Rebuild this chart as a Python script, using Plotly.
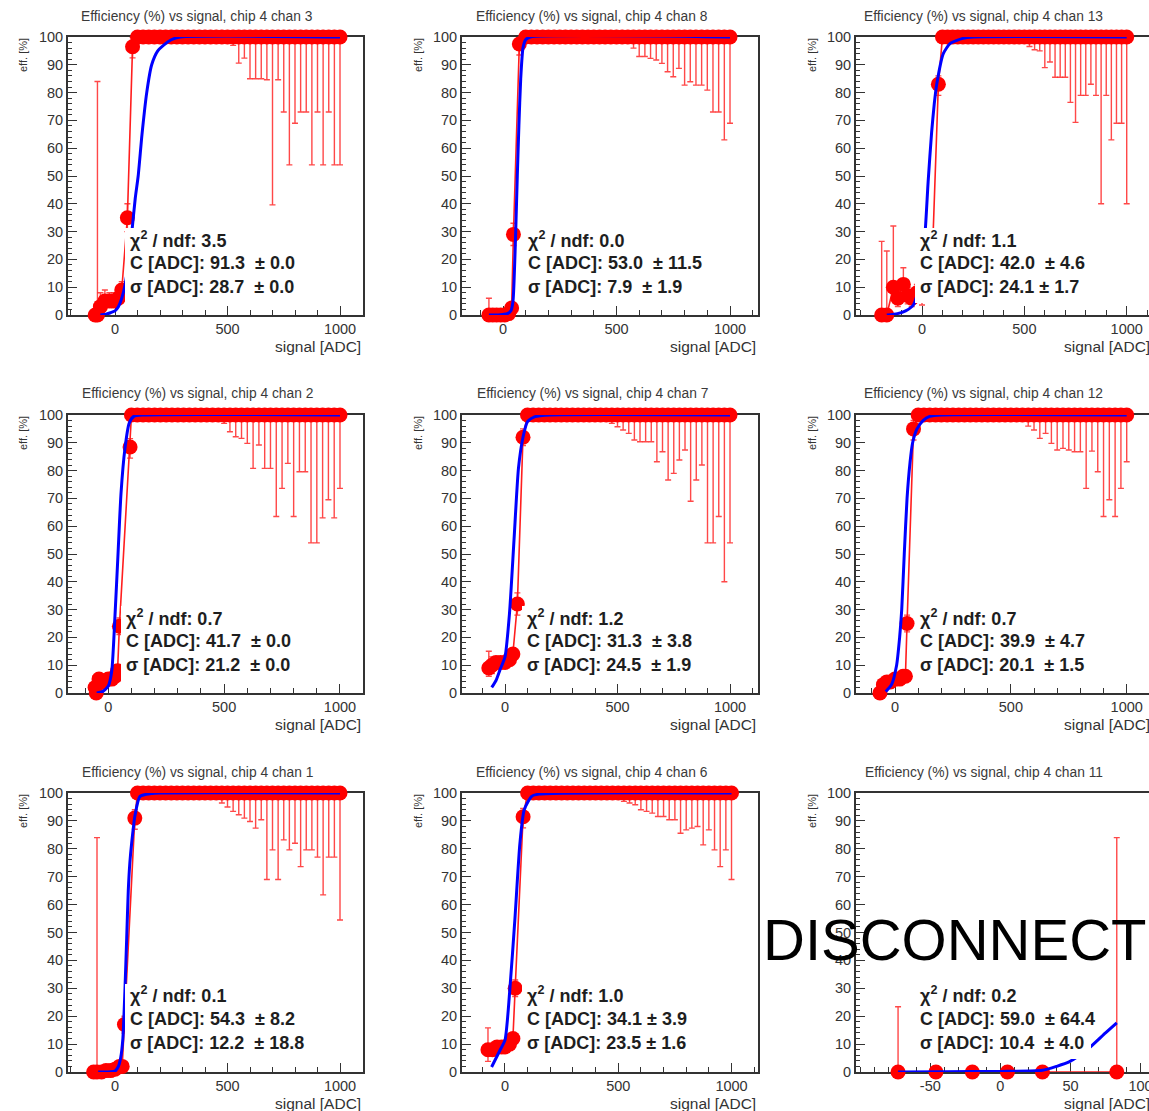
import plotly.graph_objects as go

W, H = 1149, 1111

# ---------------- shared data ----------------
PLATEAU_X = [100, 125, 150, 175, 200, 225, 250, 275, 300, 325, 350, 375, 400, 425, 450, 475, 500, 525,
             550, 575, 600, 625, 650, 675, 700, 725, 750, 775, 800, 825, 850, 875, 900, 925, 950, 975, 1000]
PLATEAU_EFF = [100, 100, 100, 100, 100, 100, 100, 100, 100, 100, 100, 100, 100, 100, 100, 100, 100, 100,
               100, 100, 100, 100, 100, 100, 100, 100, 100, 100, 100, 100, 100, 100, 100, 100, 100, 100, 100]
PLATEAU_EHI = [0, 0, 0, 0, 0, 0, 0, 0, 0, 0, 0, 0, 0, 0, 0, 0, 0, 0,
               0, 0, 0, 0, 0, 0, 0, 0, 0, 0, 0, 0, 0, 0, 0, 0, 0, 0, 0]

Y_TICKS = [0, 10, 20, 30, 40, 50, 60, 70, 80, 90, 100]
X_TICKS_WIDE = [0, 500, 1000]
X_TICKS_WIDE_TEXT = ["0", "500", "1000"]
X_TICKS_NARROW = [-50, 0, 50, 100]
X_TICKS_NARROW_TEXT = ["-50", "0", "50", "100"]

# ---------------- chan 3 ----------------
ch3_low_x = [-88, -78, -65, -45, -25, -5, 15, 30, 55, 78]
ch3_low_eff = [0, 0, 3, 5, 5, 5, 6, 9, 35, 96.5]
ch3_low_ehi = [0, 84, 5, 4, 3, 3, 3, 3, 5, 3.5]
ch3_low_elo = [0, 0, 2, 2, 2, 2, 2, 3, 5, 4]
ch3_plat_elo = [0, 0, 0, 0, 0, 0, 0, 0, 0, 0, 0, 0, 0, 0, 0, 0.5, 1.5, 3, 9.4, 7.6, 15, 15, 15, 15.4,
                60.4, 15.4, 27, 46, 31, 27, 27, 46, 27, 46, 27, 46, 46]
ch3_fit_x = [-65, -40, -20, 0, 15, 30, 45, 60, 75, 90, 103, 120, 141, 163, 190, 215, 250, 290, 1000]
ch3_fit_y = [0, 0.3, 0.8, 1.5, 3, 6, 11, 19, 30, 42, 50, 65, 80, 90, 95, 97, 99, 100, 100]
ch3_stats = ["3.5", "91.3\u00a0 \u00b1 0.0", "28.7\u00a0 \u00b1 0.0"]

# ---------------- chan 8 ----------------
ch8_low_x = [-62, -45, -28, -10, 8, 25, 38, 46, 72]
ch8_low_eff = [0, 0, 0, 0, 0, 0.5, 2.5, 29, 97.5]
ch8_low_ehi = [6, 2, 2, 2, 2, 2, 2, 4, 2.5]
ch8_low_elo = [0, 0, 0, 0, 0, 0.5, 1.5, 4, 4]
ch8_plat_elo = [0, 0, 0, 0, 0, 0, 0, 0, 0, 0, 0, 0, 0, 0, 0, 0, 0.5, 1, 2, 4, 7, 7, 7.7, 8.3,
                9.5, 12.5, 14.3, 11.3, 17.3, 16.1, 17.3, 17.3, 19.1, 27, 27, 37, 31]
ch8_fit_x = [-62, -20, 0, 20, 35, 44, 50, 56, 63, 70, 78, 88, 100, 120, 1000]
ch8_fit_y = [0, 0, 0.2, 0.5, 1.5, 5, 15, 30, 50, 68, 85, 96, 99, 100, 100]
ch8_stats = ["0.0", "53.0\u00a0 \u00b1 11.5", "7.9\u00a0 \u00b1 1.9"]

# ---------------- chan 13 ----------------
ch13_low_x = [-197, -172, -140, -118, -91, -70, -50, -25, 0, 25, 50, 80]
ch13_low_eff = [0, 0, 10, 6, 11, 7, 6, 8, 10, 12, 20, 83]
ch13_low_ehi = [26.5, 23, 22, 6, 6, 3, 3, 3, 3, 3, 4, 3]
ch13_low_elo = [0, 0, 4, 3, 4, 3, 3, 3, 6.4, 4, 4, 4]
ch13_plat_elo = [0, 0, 0, 0, 0, 0, 0, 0, 0, 0, 0, 0, 0, 0, 0, 1, 2, 3.4, 4.6, 5, 11, 9, 14.5, 14.5,
                 14.5, 23.5, 30.7, 21, 21, 17, 21, 60, 21, 37, 31, 31, 60]
ch13_fit_x = [-172, -120, -80, -42, -10, 15, 30, 47, 60, 72, 104, 137, 200, 250, 1000]
ch13_fit_y = [0, 0.5, 1.5, 3.6, 12, 29.5, 48, 65.7, 76, 83, 94, 97.6, 99.5, 100, 100]
ch13_stats = ["1.1", "42.0\u00a0 \u00b1 4.6", "24.1 \u00b1 1.7"]

# ---------------- chan 2 ----------------
ch2_low_x = [-57, -52, -40, -20, 0, 15, 30, 40, 48, 94]
ch2_low_eff = [2, 0, 5, 4, 5, 5, 6, 8, 24, 88.5]
ch2_low_ehi = [4, 6, 2, 2, 2, 2, 2, 2, 3, 3]
ch2_low_elo = [1.5, 0, 2, 2, 2, 2, 2, 2, 3, 4]
ch2_plat_elo = [0, 0, 0, 0, 0, 0, 0, 0, 0, 0, 0, 0, 0, 0, 0, 1, 3, 6, 7.8, 8.4, 10.2, 19.2, 10.8, 19.2,
                19.2, 36.5, 26.4, 17.4, 36.5, 20.4, 20.4, 46, 46, 37, 30.5, 37, 26.4]
ch2_fit_x = [-50, -25, 0, 15, 29, 42, 55, 72, 90, 110, 150, 1000]
ch2_fit_y = [0, 0.5, 2.5, 8, 28, 50, 72, 88, 97, 99.5, 100, 100]
ch2_stats = ["0.7", "41.7\u00a0 \u00b1 0.0", "21.2\u00a0 \u00b1 0.0"]

# ---------------- chan 7 ----------------
ch7_low_x = [-72, -58, -40, -20, 0, 20, 35, 55, 80]
ch7_low_eff = [9, 10, 11, 11, 11, 12, 14, 32, 92]
ch7_low_ehi = [6, 3, 2, 2, 2, 2, 2, 4, 3]
ch7_low_elo = [3, 3, 2, 2, 2, 2, 2, 4, 3]
ch7_plat_elo = [0, 0, 0, 0, 0, 0, 0, 0, 0, 0, 0, 0, 0, 0, 1.5, 3, 4.2, 5.4, 6.6, 9, 9.6, 9.6, 9.6, 16.8,
                13.2, 23.4, 21, 16.2, 12.6, 31, 23.4, 18, 46, 46, 36.5, 60, 46]
ch7_fit_x = [-59, -40, -22, 0, 20, 40, 60, 80, 100, 133, 200, 1000]
ch7_fit_y = [2, 4.5, 8.4, 13, 28.7, 55, 81, 92, 97.6, 99.4, 100, 100]
ch7_stats = ["1.2", "31.3\u00a0 \u00b1 3.8", "24.5\u00a0 \u00b1 1.9"]

# ---------------- chan 12 ----------------
ch12_low_x = [-65, -50, -35, -20, 0, 20, 35, 45, 52, 80]
ch12_low_eff = [0, 3, 4, 4, 5, 5, 6, 6, 25, 95]
ch12_low_ehi = [2, 2, 2, 2, 2, 2, 2, 2, 3, 3]
ch12_low_elo = [0, 2, 2, 2, 2, 2, 2, 2, 3, 4]
ch12_plat_elo = [0, 0, 0, 0, 0, 0, 0, 0, 0, 0, 0, 0, 0, 0, 0, 0, 0, 1, 2, 4, 5.4, 8.4, 6.6, 10.2,
                 12.6, 12, 12.6, 13.2, 13.2, 26.4, 13, 20.4, 36.5, 30.5, 36.5, 26.4, 16.8]
ch12_fit_x = [-40, -15, 7, 20, 29, 40, 52, 65, 76, 95, 121, 150, 200, 1000]
ch12_fit_y = [0.5, 3, 10, 20, 30, 50, 70, 83, 90, 95, 98, 99.5, 100, 100]
ch12_stats = ["0.7", "39.9\u00a0 \u00b1 4.7", "20.1\u00a0 \u00b1 1.5"]

# ---------------- chan 1 ----------------
ch1_low_x = [-95, -80, -60, -40, -20, 0, 20, 32, 42, 88]
ch1_low_eff = [0, 0, 0, 0.5, 0.5, 1, 2, 2, 17, 91]
ch1_low_ehi = [0, 84, 1, 1, 1, 1, 1, 1, 3, 3]
ch1_low_elo = [0, 0, 0, 0.5, 0.5, 1, 1, 1, 3, 4]
ch1_plat_elo = [0, 0, 0, 0, 0, 0, 0, 0, 0, 0, 0, 0, 0, 0, 1.5, 3.6, 5, 6.6, 7.8, 9, 10.2, 12.6, 9.6, 31,
                20.4, 31, 16.8, 20.4, 18, 26.4, 20.4, 20.4, 23, 36.5, 23, 23, 45.5]
ch1_fit_x = [-75, 0, 15, 25, 35, 44, 52, 59, 66, 74, 89, 111, 160, 200, 1000]
ch1_fit_y = [0, 0.3, 2, 5, 12, 29, 48, 65, 75, 82, 92, 98.8, 99.8, 100, 100]
ch1_stats = ["0.1", "54.3\u00a0 \u00b1 8.2", "12.2\u00a0 \u00b1 18.8"]

# ---------------- chan 6 ----------------
ch6_low_x = [-75, -55, -35, -15, 0, 20, 35, 45, 80]
ch6_low_eff = [8, 8, 9, 9, 9, 10, 12, 30, 91.5]
ch6_low_ehi = [7.8, 2, 2, 2, 2, 2, 2, 3, 3]
ch6_low_elo = [4.2, 2, 2, 2, 2, 2, 2, 3, 4]
ch6_plat_elo = [0, 0, 0, 0, 0, 0, 0, 0, 0, 0, 0, 0, 0, 0, 0, 0, 2, 3, 3.6, 4.2, 6, 6.6, 7.2, 8.4,
                8.4, 9.6, 9.6, 14.4, 13.2, 12.6, 12, 18.6, 13.2, 20.4, 26.4, 20.4, 31]
ch6_fit_x = [-59, -22, 0, 20, 44, 66, 85, 118, 150, 1000]
ch6_fit_y = [1.8, 7.8, 11.4, 28, 55, 82, 94, 98.8, 99.6, 100]
ch6_stats = ["1.0", "34.1 \u00b1 3.9", "23.5 \u00b1 1.6"]

# ---------------- chan 11 (disconnected) ----------------
ch11_low_x = [-73, -46, -20, 5, 30, 83]
ch11_low_eff = [0, 0, 0, 0, 0, 0]
ch11_low_ehi = [23.4, 0, 0, 0, 0, 84]
ch11_low_elo = [0, 0, 0, 0, 0, 0]
ch11_fit_x = [-73, -40, 0, 30, 40, 49, 62, 75, 83]
ch11_fit_y = [0, 0.1, 0.2, 0.6, 2, 3.6, 8, 14, 17.6]
ch11_stats = ["0.2", "59.0\u00a0 \u00b1 64.4", "10.4\u00a0 \u00b1 4.0"]

# ---------------- panel assembly ----------------
panels = [
    dict(chan=3, x=ch3_low_x + PLATEAU_X, eff=ch3_low_eff + PLATEAU_EFF, ehi=ch3_low_ehi + PLATEAU_EHI,
         elo=ch3_low_elo + ch3_plat_elo, fx=ch3_fit_x, fy=ch3_fit_y, stats=ch3_stats, rng=[-208.9, 1102.2], wide=True),
    dict(chan=8, x=ch8_low_x + PLATEAU_X, eff=ch8_low_eff + PLATEAU_EFF, ehi=ch8_low_ehi + PLATEAU_EHI,
         elo=ch8_low_elo + ch8_plat_elo, fx=ch8_fit_x, fy=ch8_fit_y, stats=ch8_stats, rng=[-180.6, 1123.3], wide=True),
    dict(chan=13, x=ch13_low_x + PLATEAU_X, eff=ch13_low_eff + PLATEAU_EFF, ehi=ch13_low_ehi + PLATEAU_EHI,
         elo=ch13_low_elo + ch13_plat_elo, fx=ch13_fit_x, fy=ch13_fit_y, stats=ch13_stats, rng=[-322.4, 1108.9], wide=True),
    dict(chan=2, x=ch2_low_x + PLATEAU_X, eff=ch2_low_eff + PLATEAU_EFF, ehi=ch2_low_ehi + PLATEAU_EHI,
         elo=ch2_low_elo + ch2_plat_elo, fx=ch2_fit_x, fy=ch2_fit_y, stats=ch2_stats, rng=[-173.9, 1099.3], wide=True),
    dict(chan=7, x=ch7_low_x + PLATEAU_X, eff=ch7_low_eff + PLATEAU_EFF, ehi=ch7_low_ehi + PLATEAU_EHI,
         elo=ch7_low_elo + ch7_plat_elo, fx=ch7_fit_x, fy=ch7_fit_y, stats=ch7_stats, rng=[-191.1, 1124.4], wide=True),
    dict(chan=12, x=ch12_low_x + PLATEAU_X, eff=ch12_low_eff + PLATEAU_EFF, ehi=ch12_low_ehi + PLATEAU_EHI,
         elo=ch12_low_elo + ch12_plat_elo, fx=ch12_fit_x, fy=ch12_fit_y, stats=ch12_stats, rng=[-168.3, 1096.2], wide=True),
    dict(chan=1, x=ch1_low_x + PLATEAU_X, eff=ch1_low_eff + PLATEAU_EFF, ehi=ch1_low_ehi + PLATEAU_EHI,
         elo=ch1_low_elo + ch1_plat_elo, fx=ch1_fit_x, fy=ch1_fit_y, stats=ch1_stats, rng=[-208.9, 1102.2], wide=True),
    dict(chan=6, x=ch6_low_x + PLATEAU_X, eff=ch6_low_eff + PLATEAU_EFF, ehi=ch6_low_ehi + PLATEAU_EHI,
         elo=ch6_low_elo + ch6_plat_elo, fx=ch6_fit_x, fy=ch6_fit_y, stats=ch6_stats, rng=[-189.7, 1116.9], wide=True),
    dict(chan=11, x=ch11_low_x, eff=ch11_low_eff, ehi=ch11_low_ehi, elo=ch11_low_elo,
         fx=ch11_fit_x, fy=ch11_fit_y, stats=ch11_stats, rng=[-103.0, 106.0], wide=False),
]

# geometry (pixels)
COL_PX = [(68, 363), (462, 758), (856, 1152)]
ROW_PX = [(37, 315), (415, 693), (793, 1072)]
TITLE_CX = [197, 592, 984]
TITLE_CY = [16, 393, 772]
YLAB_X = [23, 418, 812]
STAT_DX = [[60, 64, 62], [56, 63, 62], [60, 63, 62]]

FONT = "Liberation Sans, Arial, Helvetica, sans-serif"
AXC = "#333333"


def xp(px):
    return px / W


def yp(py):
    return 1 - py / H


fig = go.Figure()
layout = dict(width=W, height=H, autosize=False, margin=dict(l=0, r=0, t=0, b=0, pad=0, autoexpand=False),
              paper_bgcolor="white", plot_bgcolor="white", showlegend=False,
              font=dict(family=FONT, color=AXC))
annotations = []
shapes = []

for i, p in enumerate(panels):
    r, c = divmod(i, 3)
    n = i + 1
    sfx = "" if n == 1 else str(n)
    xa, ya = "x" + sfx, "y" + sfx
    x0px, x1px = COL_PX[c]
    y0px, y1px = ROW_PX[r]
    x1vis = min(x1px, W)

    fig.add_trace(go.Scatter(
        x=p["x"], y=p["eff"], mode="lines+markers", xaxis=xa, yaxis=ya,
        line=dict(color="rgb(255,30,30)", width=1.6),
        marker=dict(color="rgb(255,0,0)", size=15, line=dict(width=0)),
        error_y=dict(type="data", symmetric=False, array=p["ehi"], arrayminus=p["elo"],
                     color="rgba(255,40,40,0.85)", thickness=1.4, width=3),
        cliponaxis=False, hoverinfo="skip"))
    fig.add_trace(go.Scatter(
        x=p["fx"], y=p["fy"], mode="lines", xaxis=xa, yaxis=ya,
        line=dict(color="rgb(0,0,255)", width=3, shape="spline", smoothing=0.6),
        cliponaxis=False, hoverinfo="skip"))

    if p["wide"]:
        xtick = dict(tickmode="array", tickvals=X_TICKS_WIDE, ticktext=X_TICKS_WIDE_TEXT,
                     minor=dict(tickmode="linear", dtick=100, tick0=0, ticks="inside", ticklen=5,
                                tickcolor=AXC, tickwidth=1, showgrid=False))
    else:
        xtick = dict(tickmode="array", tickvals=X_TICKS_NARROW, ticktext=X_TICKS_NARROW_TEXT,
                     minor=dict(tickmode="linear", dtick=10, tick0=0, ticks="inside", ticklen=5,
                                tickcolor=AXC, tickwidth=1, showgrid=False))

    layout["xaxis" + sfx] = dict(
        domain=[xp(x0px), xp(x1vis)], range=p["rng"], anchor=ya, automargin=False,
        showline=True, linecolor=AXC, linewidth=2, mirror=True,
        ticks="inside", ticklen=9, tickwidth=1, tickcolor=AXC, ticklabeloverflow="allow",
        tickfont=dict(size=14.5, color=AXC, family=FONT),
        showgrid=False, zeroline=False, layer="below traces", fixedrange=True, **xtick)
    layout["yaxis" + sfx] = dict(
        domain=[yp(y1px), yp(y0px)], range=[0, 100], anchor=xa, automargin=False,
        showline=True, linecolor=AXC, linewidth=2, mirror=(c != 2),
        tickmode="array", tickvals=Y_TICKS,
        ticks="inside", ticklen=9, tickwidth=1, tickcolor=AXC, ticklabeloverflow="allow",
        minor=dict(tickmode="linear", dtick=2, tick0=0, ticks="inside", ticklen=4,
                   tickcolor=AXC, tickwidth=1, showgrid=False),
        tickfont=dict(size=14.5, color=AXC, family=FONT),
        showgrid=False, zeroline=False, layer="below traces", fixedrange=True)

    # title
    annotations.append(dict(text=f"Efficiency (%) vs signal, chip 4 chan {p['chan']}",
                            xref="paper", yref="paper", x=xp(TITLE_CX[c]), y=yp(TITLE_CY[r]),
                            xanchor="center", yanchor="middle", showarrow=False,
                            font=dict(size=13.8, color="#3a3a3a", family=FONT)))
    # y title
    annotations.append(dict(text="eff. [%]", xref="paper", yref="paper", x=xp(YLAB_X[c]), y=yp(y0px - 1),
                            xanchor="center", yanchor="top", textangle=-90, showarrow=False,
                            font=dict(size=11, color=AXC, family=FONT)))
    # x title
    annotations.append(dict(text="signal [ADC]", xref="paper", yref="paper", x=xp(x1px), y=yp(y1px + 31),
                            xanchor="right", yanchor="middle", showarrow=False,
                            font=dict(size=15.5, color=AXC, family=FONT)))
    # stats box
    sx = x0px + STAT_DX[r][c]
    shapes.append(dict(type="rect", xref="paper", yref="paper", x0=xp(sx - 3), x1=xp(x0px + 235),
                       y0=yp(y0px + 266), y1=yp(y0px + 191), fillcolor="white",
                       line=dict(width=0), layer="above"))
    lines = ["\u03c7<sup>2</sup> / ndf: " + p["stats"][0],
             "C [ADC]: " + p["stats"][1],
             "\u03c3 [ADC]: " + p["stats"][2]]
    for k, t in enumerate(lines):
        annotations.append(dict(text="<b>" + t + "</b>", xref="paper", yref="paper",
                                x=xp(sx), y=yp(y0px + 202 + 24 * k), xanchor="left", yanchor="middle",
                                showarrow=False, font=dict(size=18, color="#1e1e1e", family=FONT)))

annotations.append(dict(text="DISCONNECT", xref="paper", yref="paper", x=xp(954), y=yp(939),
                        xanchor="center", yanchor="middle", showarrow=False,
                        font=dict(size=58, color="black", family=FONT)))

layout["annotations"] = annotations
layout["shapes"] = shapes
fig.update_layout(**layout)

fig.write_html("out.html", config={"displayModeBar": False, "staticPlot": True},
               post_script="document.body.style.margin='0';document.body.style.overflow='hidden';")
